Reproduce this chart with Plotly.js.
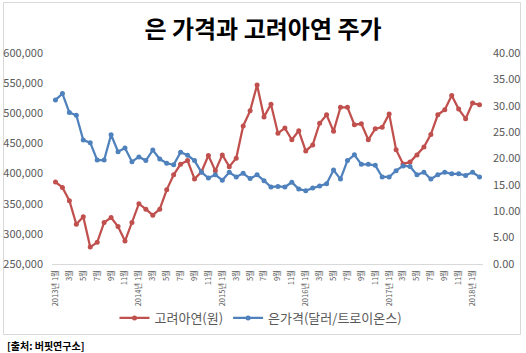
<!DOCTYPE html>
<html>
<head>
<meta charset="utf-8">
<script src="https://cdn.plot.ly/plotly-3.0.1.min.js"></script>
<style>
html,body{margin:0;padding:0;background:#fff;}
#chart{width:526px;height:353px;}
</style>
</head>
<body>
<div id="chart"></div>
<script>
// Monthly categories 2013-01 .. 2018-02
const months = [
 "2013-01","2013-02","2013-03","2013-04","2013-05","2013-06","2013-07","2013-08","2013-09","2013-10","2013-11","2013-12",
 "2014-01","2014-02","2014-03","2014-04","2014-05","2014-06","2014-07","2014-08","2014-09","2014-10","2014-11","2014-12",
 "2015-01","2015-02","2015-03","2015-04","2015-05","2015-06","2015-07","2015-08","2015-09","2015-10","2015-11","2015-12",
 "2016-01","2016-02","2016-03","2016-04","2016-05","2016-06","2016-07","2016-08","2016-09","2016-10","2016-11","2016-12",
 "2017-01","2017-02","2017-03","2017-04","2017-05","2017-06","2017-07","2017-08","2017-09","2017-10","2017-11","2017-12",
 "2018-01","2018-02"
];
// Every second month is labelled on the axis
const tickMonths = [
 "2013-01","2013-03","2013-05","2013-07","2013-09","2013-11",
 "2014-01","2014-03","2014-05","2014-07","2014-09","2014-11",
 "2015-01","2015-03","2015-05","2015-07","2015-09","2015-11",
 "2016-01","2016-03","2016-05","2016-07","2016-09","2016-11",
 "2017-01","2017-03","2017-05","2017-07","2017-09","2017-11",
 "2018-01"
];
const tickLabels = [
 "2013년 1월","3월","5월","7월","9월","11월",
 "2014년 1월","3월","5월","7월","9월","11월",
 "2015년 1월","3월","5월","7월","9월","11월",
 "2016년 1월","3월","5월","7월","9월","11월",
 "2017년 1월","3월","5월","7월","9월","11월",
 "2018년 1월"
];
// 고려아연 주가 (원)
const koreaZinc = [
 386000,377000,355000,316000,328500,278000,286000,319000,327000,312000,288000,319000,
 350000,341000,331000,341000,373000,398000,415500,421500,391000,403000,430000,404500,
 431000,411500,425500,479000,504000,547000,494000,515000,467000,475500,456000,471000,
 437500,447500,483500,497500,470000,510000,510000,481000,482500,456000,474500,477000,
 499000,439500,416000,419000,431000,444000,465000,497500,506000,529500,507000,491000,
 517000,514000
];
// 은가격 (달러/트로이온스)
const silver = [
 31.1,32.3,28.7,28.2,23.5,23.0,19.7,19.7,24.5,21.3,22.0,19.4,
 20.3,19.6,21.6,19.9,19.1,18.8,21.2,20.6,19.6,17.4,16.3,16.9,
 15.9,17.4,16.5,17.2,16.2,16.9,15.8,14.6,14.7,14.6,15.5,14.2,
 13.9,14.4,14.8,15.2,17.8,16.1,19.6,20.7,18.9,18.9,18.7,16.5,
 16.5,17.7,18.6,18.5,16.9,17.4,16.1,16.9,17.4,17.1,17.1,16.8,
 17.4,16.5
];
const seriesNames = ["고려아연(원)", "은가격(달러/트로이온스)"];
const titleText = "은 가격과 고려아연 주가";
const sourceText = "[출처: 버핏연구소]";

const RED = "#C0504D", BLUE = "#4F81BD";
const FONT = "Noto Sans CJK KR, Noto Sans, sans-serif";

const W = 526, H = 353;
const M = {l: 52, r: 43, t: 53, b: 89};
const pw = W - M.l - M.r, ph = H - M.t - M.b;
const px2x = p => (p - M.l) / pw;
const py2y = p => (H - M.b - p) / ph;

const traces = [
 {x: months, y: koreaZinc, name: seriesNames[0], type: "scatter", mode: "lines+markers",
  line: {color: RED, width: 2.25}, marker: {color: RED, size: 5, symbol: "circle"}, yaxis: "y"},
 {x: months, y: silver, name: seriesNames[1], type: "scatter", mode: "lines+markers",
  line: {color: BLUE, width: 2.25}, marker: {color: BLUE, size: 5, symbol: "circle"}, yaxis: "y2"}
];

const layout = {
 width: W, height: H, margin: M,
 paper_bgcolor: "#fff", plot_bgcolor: "#fff",
 font: {family: FONT, color: "#595959", size: 11},
 showlegend: true,
 title: {text: "<b>" + titleText + "</b>", font: {family: FONT, size: 24, color: "#000"},
   x: 0.5, xref: "container", xanchor: "center", y: 1 - 30/H, yref: "container", yanchor: "middle"},
 xaxis: {type: "category", categoryorder: "array", categoryarray: months,
   range: [-0.5, months.length - 0.5], tickmode: "array", tickvals: tickMonths, ticktext: tickLabels,
   tickangle: -90, tickfont: {size: 7.5, color: "#595959", family: FONT},
   showgrid: false, zeroline: false, showline: true, linecolor: "#d9d9d9", linewidth: 1, ticks: "",
   ticklabelstandoff: 2},
 yaxis: {range: [250000, 600000], dtick: 50000, tickformat: ",d", showgrid: false, zeroline: false,
   showline: false, ticks: "", tickfont: {size: 11, color: "#595959", family: FONT}, ticklabelstandoff: 8},
 yaxis2: {range: [0, 40], dtick: 5, tickformat: ".2f", overlaying: "y", side: "right",
   showgrid: false, zeroline: false, showline: false, ticks: "",
   tickfont: {size: 11, color: "#595959", family: FONT}, ticklabelstandoff: 9},
 legend: {orientation: "h", x: 261/W, xref: "container", xanchor: "center",
   y: 1 - 318/H, yref: "container", yanchor: "middle",
   font: {size: 13, color: "#595959", family: FONT}, itemwidth: 30, bgcolor: "rgba(0,0,0,0)"},
 shapes: [{type: "rect", xref: "paper", yref: "paper",
   x0: px2x(3.5), x1: px2x(520.5), y0: py2y(334.5), y1: py2y(2.5),
   line: {color: "#d9d9d9", width: 1}, fillcolor: "rgba(0,0,0,0)", layer: "below"}],
 annotations: [{text: "<b>" + sourceText + "</b>", xref: "paper", yref: "paper",
   x: px2x(5), xanchor: "left", y: py2y(345), yanchor: "middle", showarrow: false,
   font: {family: FONT, size: 10, color: "#000"}}]
};

Plotly.newPlot("chart", traces, layout, {staticPlot: true, displayModeBar: false});
</script>
</body>
</html>
